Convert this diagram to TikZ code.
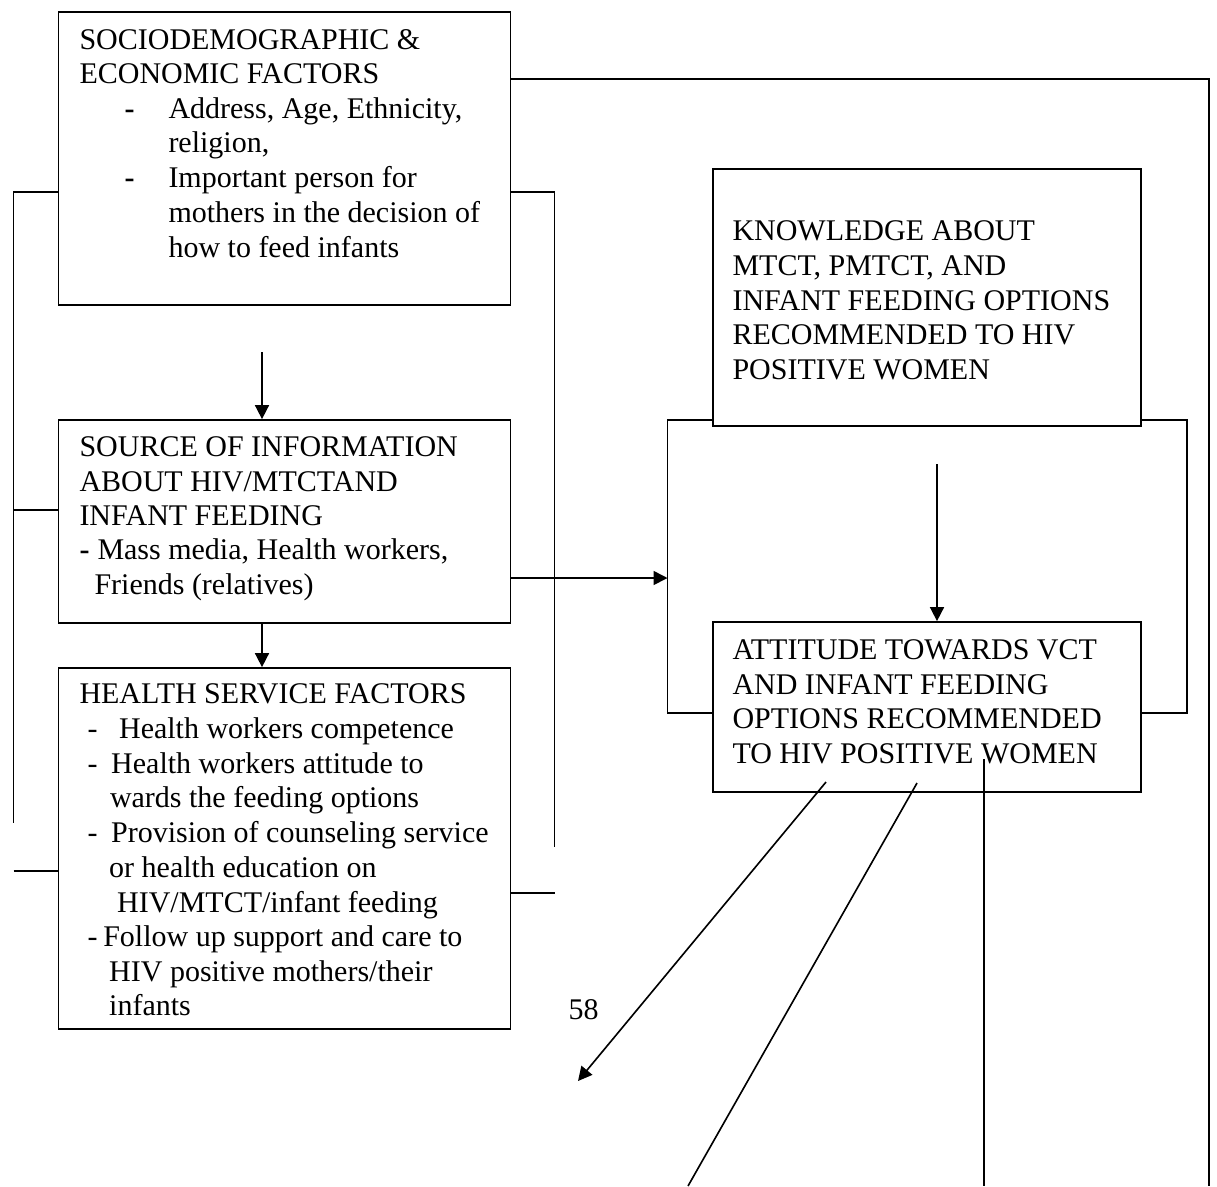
\documentclass[tikz,border=0pt]{standalone}
\usepackage{fontspec}
\setmainfont{Liberation Serif}
\usetikzlibrary{fit,arrows.meta}
\begin{document}
\begin{tikzpicture}[x=0.4pt,y=-0.4pt,
  box/.style={draw,line width=0.7pt,inner sep=0pt},
  ln/.style={line width=0.65pt},
  arr/.style={line width=0.65pt,-{Triangle[length=5.6pt,width=5.6pt]}},
  txt/.style={anchor=base west,inner sep=0pt,font=\fontsize{12}{14}\selectfont}]
\useasboundingbox (0,0) rectangle (1217,1186);
% boxes
\node[box,fit={(58.5,12)(510.5,305)}] (box1) {};
\node[box,fit={(58.5,420)(510.5,623)}] (box2) {};
\node[box,fit={(58.5,668)(510.5,1029)}] (box3) {};
\node[box,fit={(713,169)(1141,426)}] (know) {};
\node[box,fit={(713,622)(1141,792)}] (att) {};
% box1 text
\node[txt] (s1) at (79,49) {SOCIODEMOGRAPHIC \&};
\node[txt] (s2) at (79,83) {ECONOMIC FACTORS};
\node[txt] (s3d) at (124,118) {\textbf{-}};
\node[txt] (s3) at (168,118) {Address, Age, Ethnicity,};
\node[txt] (s4) at (168,152) {religion,};
\node[txt] (s5d) at (124,187) {\textbf{-}};
\node[txt] (s5) at (168,187) {Important person for};
\node[txt] (s6) at (168,222) {mothers in the decision of};
\node[txt] (s7) at (168,257) {how to feed infants};
% box2 text
\node[txt] (i1) at (79,456) {SOURCE OF INFORMATION};
\node[txt] (i2) at (79,491) {ABOUT HIV/MTCTAND};
\node[txt] (i3) at (79,525) {INFANT FEEDING};
\node[txt] (i4d) at (79,559) {\textbf{-}};
\node[txt] (i4) at (97,559) {Mass media, Health workers,};
\node[txt] (i5) at (94,594) {Friends (relatives)};
% box3 text
\node[txt] (h1) at (79,703) {HEALTH SERVICE FACTORS};
\node[txt] (h2d) at (87,738) {-};
\node[txt] (h2) at (118.6,738) {Health workers competence};
\node[txt] (h3d) at (87,773) {-};
\node[txt] (h3) at (110.7,773) {Health workers attitude to};
\node[txt] (h4) at (109.5,807) {wards the feeding options};
\node[txt] (h5d) at (87,842) {-};
\node[txt] (h5) at (110.7,842) {Provision of counseling service};
\node[txt] (h6) at (108.7,877) {or health education on};
\node[txt] (h7) at (116.6,912) {HIV/MTCT/infant feeding};
\node[txt] (h8d) at (87,946) {-};
\node[txt] (h8) at (102.8,946) {Follow up support and care to};
\node[txt] (h9) at (108.7,981) {HIV positive mothers/their};
\node[txt] (h10) at (108.7,1015) {infants};
% knowledge text
\node[txt] (k1t) at (732,240) {KNOWLEDGE ABOUT};
\node[txt] (k2t) at (732,275) {MTCT, PMTCT, AND};
\node[txt] (k3t) at (732,310) {INFANT FEEDING OPTIONS};
\node[txt] (k4t) at (732,344) {RECOMMENDED TO HIV};
\node[txt] (k5t) at (732,379) {POSITIVE WOMEN};
% attitude text
\node[txt] (a1t) at (732,659) {ATTITUDE TOWARDS VCT};
\node[txt] (a2t) at (732,694) {AND INFANT FEEDING};
\node[txt] (a3t) at (732,728.5) {OPTIONS RECOMMENDED};
\node[txt] (a4t) at (732,763) {TO HIV POSITIVE WOMEN};
% page number
\node[txt] (pg) at (568,1019) {58};
% coordinates
\coordinate (tr) at (1209,79);
\coordinate (trb) at (1209,1186);
\coordinate (l1) at (13.5,192);
\coordinate (l2) at (13.5,823);
\coordinate (l3) at (13.5,510);
\coordinate (l4) at (13.5,871);
\coordinate (r1) at (554.5,192);
\coordinate (r2) at (554.5,847);
\coordinate (r3) at (554.5,893);
\coordinate (a1) at (262,352);
\coordinate (b1) at (667.5,420);
\coordinate (b2) at (1187,420);
\coordinate (b3) at (667.5,713);
\coordinate (b4) at (1187,713);
\coordinate (m1) at (667.5,578);
\coordinate (k1) at (937,464);
\coordinate (dA1) at (826,782);
\coordinate (dA2) at (578,1081);
\coordinate (dB1) at (917,783);
\coordinate (dB2) at (688,1186);
\coordinate (dC1) at (984,759);
\coordinate (dC2) at (984,1186);
% connectors
\draw[ln] (box1.east |- tr) -- (tr) -- (trb);
\draw[ln] (box1.west |- l1) -- (l1) -- (l2);
\draw[ln] (l3) -- (l3 -| box2.west);
\draw[ln] (l4) -- (l4 -| box3.west);
\draw[ln] (box1.east |- r1) -- (r1) -- (r2);
\draw[ln] (box3.east |- r3) -- (r3);
\draw[arr] (a1) -- (a1 |- box2.north);
\draw[arr] (box2.south -| a1) -- (box3.north -| a1);
\draw[ln] (know.west |- b1) -- (b1) -- (b3) -- (b3 -| att.west);
\draw[ln] (know.east |- b2) -- (b2) -- (b4) -- (b4 -| att.east);
\draw[arr] (m1 -| box2.east) -- (m1);
\draw[arr] (k1) -- (k1 |- att.north);
\draw[arr] (dA1) -- (dA2);
\draw[ln] (dB1) -- (dB2);
\draw[ln] (dC1) -- (dC2);
\end{tikzpicture}
\end{document}
